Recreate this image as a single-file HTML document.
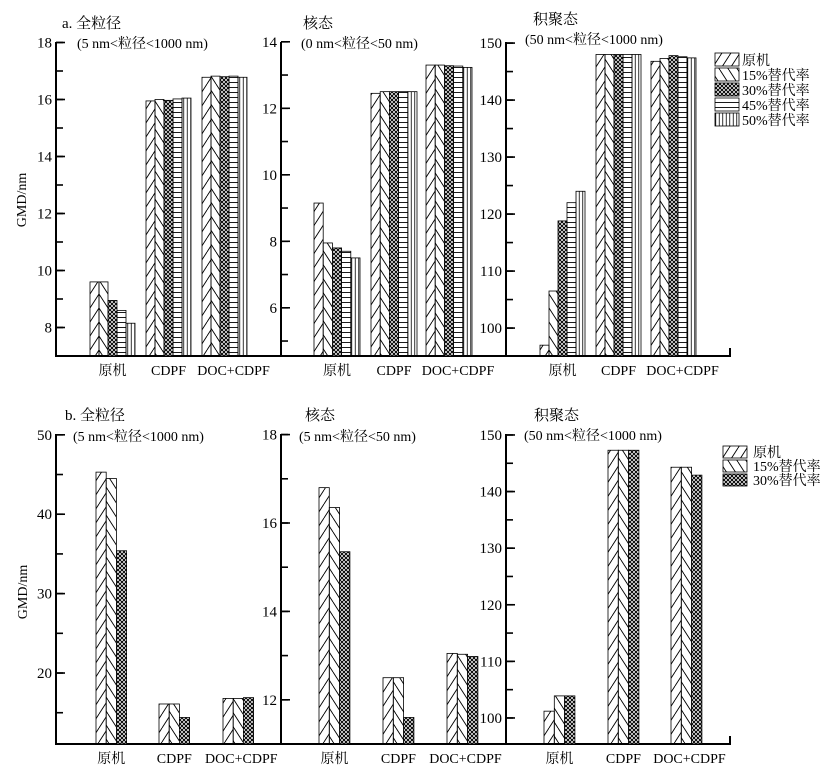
<!DOCTYPE html>
<html><head><meta charset="utf-8">
<style>
body{margin:0;background:#fff;}
svg{display:block;font-family:"Liberation Serif","Noto Serif CJK SC",serif;}
</style></head>
<body>
<svg id="c" width="826" height="776" viewBox="0 0 826 776">
<defs>
<pattern id="p0" patternUnits="userSpaceOnUse" width="9" height="14"><path d="M-9,14 L0,0 M0,14 L9,0 M9,14 L18,0" stroke="#000" stroke-width="0.9"/></pattern>
<pattern id="p1" patternUnits="userSpaceOnUse" width="9" height="14"><path d="M-9,0 L0,14 M0,0 L9,14 M9,0 L18,14" stroke="#000" stroke-width="0.9"/></pattern>
<pattern id="p2" patternUnits="userSpaceOnUse" width="4" height="4"><rect width="4" height="4" fill="#fff"/><path d="M0,0 L4,4 M4,0 L0,4" stroke="#000" stroke-width="1"/></pattern>
<pattern id="p3" patternUnits="userSpaceOnUse" width="6" height="5"><path d="M0,2.5 H6" stroke="#000" stroke-width="0.9"/></pattern>
<pattern id="p4" patternUnits="userSpaceOnUse" width="3.5" height="6"><path d="M1.75,0 V6" stroke="#000" stroke-width="0.8"/></pattern>
</defs>
</svg>
<script>
const categories=["原机","CDPF","DOC+CDPF"];
const seriesA=["原机","15%替代率","30%替代率","45%替代率","50%替代率"];
const seriesB=["原机","15%替代率","30%替代率"];
const a1Values=[[9.6,9.6,8.95,8.6,8.15],[15.95,16.0,15.97,16.02,16.05],[16.78,16.82,16.8,16.82,16.78]];
const a2Values=[[9.15,7.95,7.8,7.7,7.5],[12.45,12.5,12.5,12.5,12.5],[13.3,13.3,13.28,13.27,13.23]];
const a3Values=[[97,106.5,118.8,122,124],[148,148,148,148,148],[146.8,147.3,147.8,147.6,147.4]];
const b1Values=[[45.3,44.5,35.4],[16.1,16.1,14.4],[16.8,16.8,16.9]];
const b2Values=[[16.8,16.35,15.35],[12.5,12.5,11.6],[13.05,13.03,12.98]];
const b3Values=[[101.2,103.9,103.9],[147.3,147.3,147.3],[144.3,144.3,142.9]];
const a1Ticks=[8,10,12,14,16,18];
const a2Ticks=[6,8,10,12,14];
const a3Ticks=[100,110,120,130,140,150];
const b1Ticks=[20,30,40,50];
const b2Ticks=[12,14,16,18];
const b3Ticks=[100,110,120,130,140,150];

const NS="http://www.w3.org/2000/svg";
const svg=document.getElementById('c');
function mk(tag,attrs,parent){const e=document.createElementNS(NS,tag);for(const k in attrs)e.setAttribute(k,attrs[k]);(parent||svg).appendChild(e);return e;}
function txt(x,y,s,size,anchor,name){const t=mk('text',{x:x,y:y,'font-size':size,'text-anchor':anchor||'start'});t.textContent=s;


return t;}

function panel(o){
  const g=mk('g',{});
  
  
  const y=v=>o.base-(v-o.ymin)*o.k;
  mk('line',{x1:o.ax,y1:o.top,x2:o.ax,y2:o.base,stroke:'#000','stroke-width':2},g);
  mk('line',{x1:o.ax-1,y1:o.base,x2:o.xend,y2:o.base,stroke:'#000','stroke-width':2},g);
  if(o.endTick) mk('line',{x1:o.xend-1,y1:o.base,x2:o.xend-1,y2:o.base-8,stroke:'#000','stroke-width':2},g);
  for(let v=o.ticks[0]-o.minor*Math.floor((o.ticks[0]-o.ymin)/o.minor);v<=o.ticks[o.ticks.length-1]+1e-9;v+=o.minor){
    if(v<=o.ymin+1e-6)continue;
    const t=mk('line',{x1:o.ax,y1:y(v),x2:o.ax+7,y2:y(v),stroke:'#000','stroke-width':1.6},g);
    
  }
  o.ticks.forEach(v=>{
    mk('line',{x1:o.ax,y1:y(v),x2:o.ax+9,y2:y(v),stroke:'#000','stroke-width':1.6},g);
    txt(o.ax-4,y(v)+5,String(v),15,'end','y-tick-label');
  });
  o.values.forEach((grp,ci)=>{
    grp.forEach((v,si)=>{
      const x=o.gx[ci]+si*o.bw;
      const r=mk('rect',{x:x,y:y(v),width:o.bw,height:o.base-y(v),fill:'url(#p'+si+')',stroke:'#000','stroke-width':0.8},g);
      
      
    });
    txt(o.gx[ci]+o.bw*grp.length/2+(ci==2?o.lo:0),o.base+19,categories[ci],14,'middle','category-label');
  });
}

function legend(x,y0,dy,series,textx,h){
  series.forEach((s,i)=>{
    const r=mk('rect',{x:x,y:y0+i*dy,width:24,height:h,fill:'url(#p'+i+')',stroke:'#000','stroke-width':0.8});
    
    
    txt(textx,y0+i*dy+h-1,s,14,'start','legend-entry');
  });
}

panel({name:'panel-a-total',ax:56,top:42,base:356,xend:281,ymin:7,k:28.5,ticks:a1Ticks,minor:1,values:a1Values,gx:[90,146,202],bw:9,lo:9});
panel({name:'panel-a-nucleation',ax:281,top:42,base:356,xend:506,ymin:4.55,k:33.25,ticks:a2Ticks,minor:1,values:a2Values,gx:[314,371,426],bw:9.2,lo:9});
panel({name:'panel-a-accumulation',ax:506,top:42,base:356,xend:731,endTick:true,ymin:95.1,k:5.7,ticks:a3Ticks,minor:5,values:a3Values,gx:[540,596,651],bw:9,lo:9});
legend(715,53,15,seriesA,742,13);
panel({name:'panel-b-total',ax:56,top:434,base:744,xend:281,ymin:11.06,k:7.94,ticks:b1Ticks,minor:5,values:b1Values,gx:[96,159,223],bw:10.2,lo:3});
panel({name:'panel-b-nucleation',ax:281,top:434,base:744,xend:506,ymin:11.0,k:44.2,ticks:b2Ticks,minor:1,values:b2Values,gx:[319,383,447],bw:10.3,lo:3});
panel({name:'panel-b-accumulation',ax:506,top:434,base:744,xend:731,endTick:true,ymin:95.4,k:5.66,ticks:b3Ticks,minor:5,values:b3Values,gx:[544,608,671],bw:10.3,lo:3});
legend(723,446,14,seriesB,753,12);

txt(62,28,'a. 全粒径',15,'start','title-a-total');
txt(77,48,'(5 nm<粒径<1000 nm)',14,'start','subtitle-a-total');
txt(303,28,'核态',15,'start','title-a-nucleation');
txt(301,48,'(0 nm<粒径<50 nm)',14,'start','subtitle-a-nucleation');
txt(533,24,'积聚态',15,'start','title-a-accumulation');
txt(525,44,'(50 nm<粒径<1000 nm)',14,'start','subtitle-a-accumulation');
txt(65,420,'b. 全粒径',15,'start','title-b-total');
txt(73,441,'(5 nm<粒径<1000 nm)',14,'start','subtitle-b-total');
txt(305,420,'核态',15,'start','title-b-nucleation');
txt(299,441,'(5 nm<粒径<50 nm)',14,'start','subtitle-b-nucleation');
txt(534,420,'积聚态',15,'start','title-b-accumulation');
txt(524,440,'(50 nm<粒径<1000 nm)',14,'start','subtitle-b-accumulation');
const ya=txt(0,0,'GMD/nm',14,'middle','y-axis-title-a');ya.setAttribute('transform','translate(26,200) rotate(-90)');
const yb=txt(0,0,'GMD/nm',14,'middle','y-axis-title-b');yb.setAttribute('transform','translate(27,592) rotate(-90)');
</script>
</body></html>
